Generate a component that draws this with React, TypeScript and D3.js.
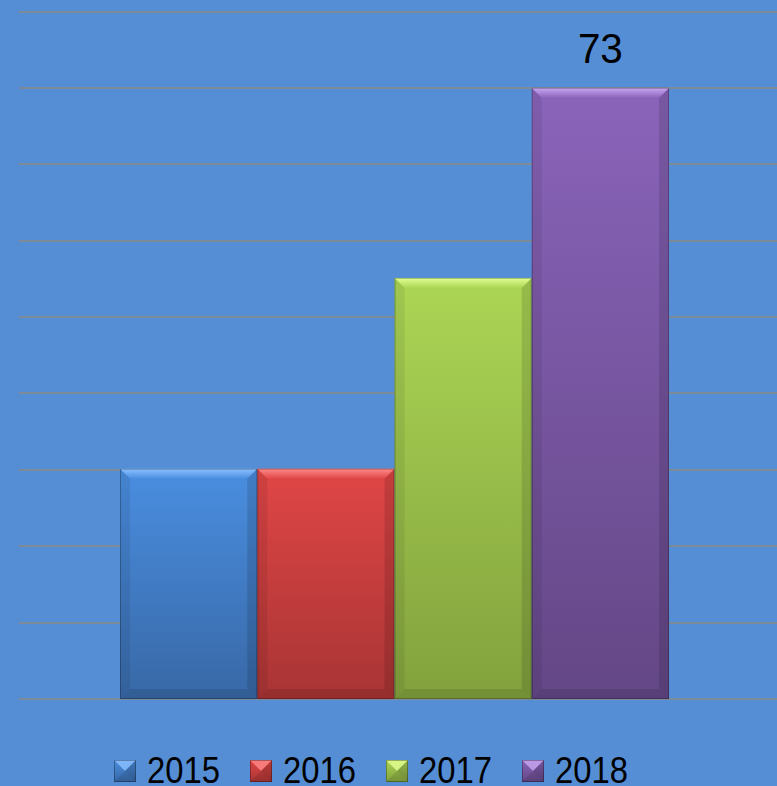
import * as React from "react";
import * as d3 from "d3";

// data
const years = ["2015", "2016", "2017", "2018"];
const values = [27.5, 27.5, 50.3, 73];
const topColors = ["#4a8ee0", "#e04646", "#acd655", "#8a64ba"];
const bottomColors = ["#3868a6", "#a83434", "#82a13d", "#644786"];
const edgeLight = ["#8cc0ff", "#ff8a8a", "#e2ff92", "#c9a8f2"];
const labelIndex = 3;

const W = 777;
const H = 786;
const BG = "#558ed5";

export default function App() {
  const gridStep = 73 / 8;
  const y = d3.scaleLinear().domain([0, gridStep * 9]).range([699, 11.5]);
  const x = d3.scaleBand<string>().domain(years).range([120, 669]).padding(0);
  const ticks = d3.range(0, 10).map((k) => k * gridStep);
  const bw = x.bandwidth();
  const bv = 10; // bevel size

  return (
    <svg
      width={W}
      height={H}
      style={{ position: "absolute", left: 0, top: 0, background: BG }}
      fontFamily="'Liberation Sans', Arial, sans-serif"
    >
      <defs>
        {years.map((yr, i) => (
          <linearGradient key={yr} id={`g${i}`} x1="0" y1="0" x2="0" y2="1">
            <stop offset="0%" stopColor={topColors[i]} />
            <stop offset="100%" stopColor={bottomColors[i]} />
          </linearGradient>
        ))}
        {years.map((yr, i) => (
          <linearGradient key={yr} id={`t${i}`} x1="0" y1="0" x2="0" y2="1">
            <stop offset="0%" stopColor={edgeLight[i]} />
            <stop offset="100%" stopColor={topColors[i]} />
          </linearGradient>
        ))}
      </defs>
      <rect width={W} height={H} fill={BG} />

      {ticks.map((t) => (
        <line
          key={t}
          x1={19}
          x2={W}
          y1={Math.round(y(t))}
          y2={Math.round(y(t))}
          stroke="#8a8a82"
          strokeWidth={1.5}
        />
      ))}

      {years.map((yr, i) => {
        const x0 = x(yr)!;
        const x1 = x0 + bw;
        const y0 = y(values[i]);
        const y1 = y(0);
        return (
          <g key={yr}>
            <rect x={x0} y={y0} width={bw} height={y1 - y0} fill={`url(#g${i})`} />
            {/* top bevel */}
            <polygon
              points={`${x0},${y0} ${x1},${y0} ${x1 - bv},${y0 + bv} ${x0 + bv},${y0 + bv}`}
              fill={`url(#t${i})`}
            />
            {/* left bevel */}
            <polygon
              points={`${x0},${y0} ${x0 + bv},${y0 + bv} ${x0 + bv},${y1 - bv} ${x0},${y1}`}
              fill="#000"
              opacity={0.07}
            />
            {/* right bevel */}
            <polygon
              points={`${x1},${y0} ${x1 - bv},${y0 + bv} ${x1 - bv},${y1 - bv} ${x1},${y1}`}
              fill="#000"
              opacity={0.12}
            />
            {/* bottom bevel */}
            <polygon
              points={`${x0},${y1} ${x0 + bv},${y1 - bv} ${x1 - bv},${y1 - bv} ${x1},${y1}`}
              fill="#000"
              opacity={0.1}
            />
            <rect
              x={x0 + 0.5}
              y={y0 + 0.5}
              width={bw - 1}
              height={y1 - y0 - 1}
              fill="none"
              stroke="#000"
              strokeOpacity={0.25}
            />
          </g>
        );
      })}

      <text
        x={x(years[labelIndex])! + bw / 2}
        y={y(values[labelIndex]) - 25}
        textAnchor="middle"
        fontSize={43}
        textLength={45}
        lengthAdjust="spacingAndGlyphs"
        fill="#000"
      >
        {values[labelIndex]}
      </text>

      {years.map((yr, i) => {
        const lx = 114 + i * 136;
        const ly = 760;
        const s = 22;
        return (
          <g key={yr}>
            <rect x={lx} y={ly} width={s} height={s} fill={`url(#g${i})`} />
            <polygon points={`${lx},${ly} ${lx + s},${ly} ${lx + s / 2},${ly + s / 2}`} fill={edgeLight[i]} opacity={0.8} />
            <polygon points={`${lx + s},${ly} ${lx + s},${ly + s} ${lx + s / 2},${ly + s / 2}`} fill="#000" opacity={0.15} />
            <polygon points={`${lx},${ly + s} ${lx + s},${ly + s} ${lx + s / 2},${ly + s / 2}`} fill="#000" opacity={0.1} />
            <rect x={lx + 0.5} y={ly + 0.5} width={s - 1} height={s - 1} fill="none" stroke="#000" strokeOpacity={0.3} />
            <text
              x={lx + 33}
              y={783}
              fontSize={36}
              textLength={73}
              lengthAdjust="spacingAndGlyphs"
              fill="#000"
            >
              {yr}
            </text>
          </g>
        );
      })}
    </svg>
  );
}
